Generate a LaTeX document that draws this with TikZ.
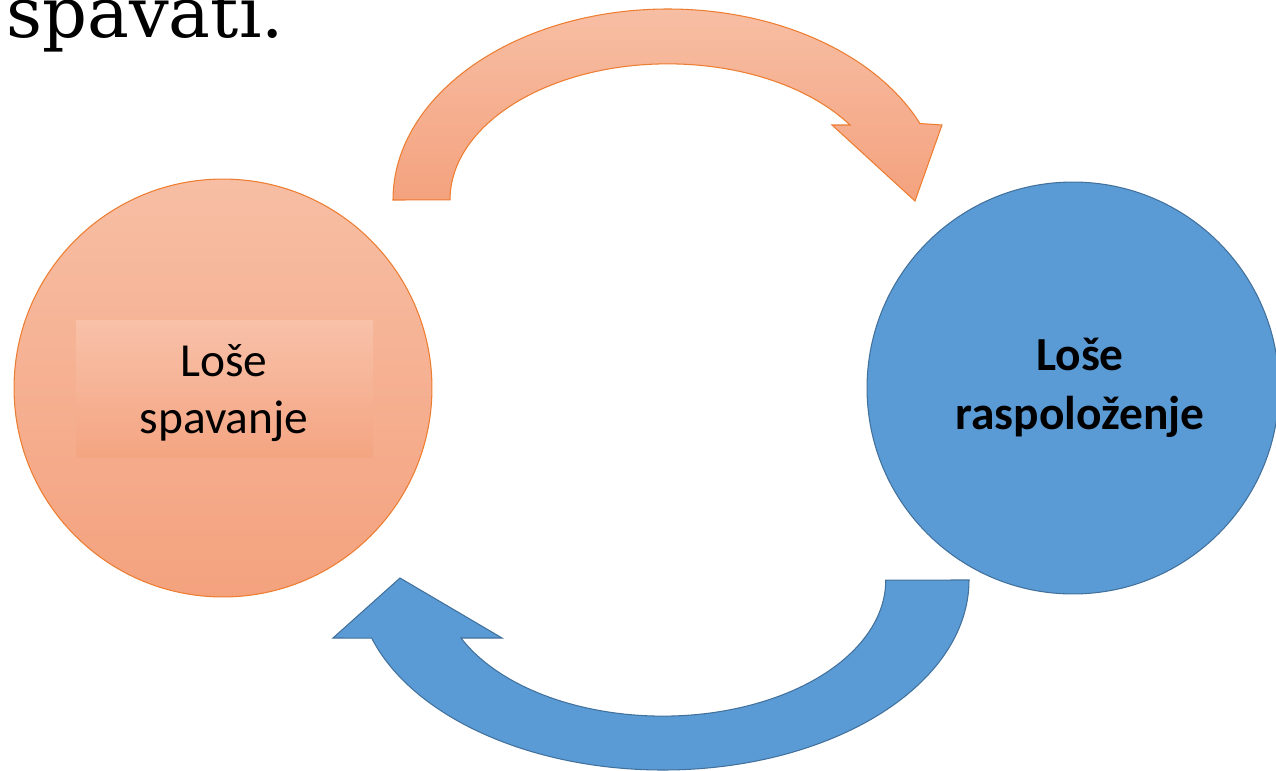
\documentclass[tikz,border=0pt]{standalone}
\usepackage{fontspec}
\newfontfamily\calfont{Carlito}
\newfontfamily\titlefont{DejaVu Serif}
\definecolor{orTop}{HTML}{F7BEA4}
\definecolor{orBot}{HTML}{F4A27E}
\definecolor{orLine}{HTML}{ED7D31}
\definecolor{rectTop}{HTML}{F8C1A9}
\definecolor{rectBot}{HTML}{F4A582}
\definecolor{blFill}{HTML}{5B9BD5}
\definecolor{blLine}{HTML}{41719C}
\tikzset{
  orshape/.style={draw=orLine, line width=0.6pt, top color=orTop, bottom color=orBot},
  blshape/.style={draw=blLine, line width=0.6pt, fill=blFill},
  lbl/.style={font=\calfont\fontsize{27}{32.3}\selectfont, align=center, text=black},
}
\begin{document}
\begin{tikzpicture}[x=0.02cm, y=0.02cm]
\useasboundingbox (0,0) rectangle (1276,-771);
% title fragment
\node[anchor=base west, inner sep=0, font=\titlefont\fontsize{40}{44}\selectfont] (title) at (6,-37) {spavati.};
% circles
\node[circle, orshape, minimum size=8.36cm, inner sep=0] (sleep) at (223,-388) {};
\node[circle, blshape, minimum size=8.24cm, inner sep=0] (mood) at (1073,-388) {};
% text panel in orange circle
\shade[top color=rectTop, bottom color=rectBot] (76,-320) rectangle (373,-457);
\node[lbl] (sleeptxt) at (224,-393) {Loše\\spavanje};
\node[lbl, font=\calfont\bfseries\fontsize{27}{33.5}\selectfont] (moodtxt) at (1080,-388) {Loše\\raspoloženje};
% top curved arrow (orange)
\path[orshape] (393,-200) arc[start angle=180, end angle=23.6, x radius=275, y radius=191]
  -- (942,-125) -- (915,-201) -- (832,-125) -- (850,-125)
  arc[start angle=33.4, end angle=180, x radius=218, y radius=136] -- cycle;
% bottom curved arrow (blue)
\path[blshape] (969,-580) arc[start angle=0, end angle=-162.2, x radius=306, y radius=190]
  -- (333,-638) -- (400,-578) -- (502,-638) -- (461,-638)
  arc[start angle=-154.8, end angle=0, x radius=223, y radius=136] -- cycle;
\end{tikzpicture}
\end{document}
